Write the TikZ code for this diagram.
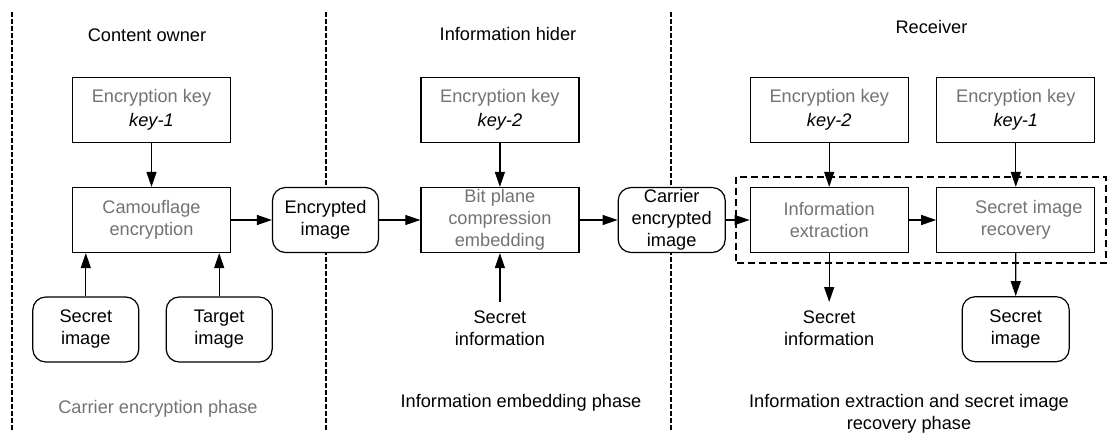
\documentclass[tikz,border=0pt]{standalone}
\usepackage{fontspec}
\setmainfont{Liberation Sans}
\usetikzlibrary{arrows.meta}
\definecolor{txtgray}{HTML}{737373}
\begin{document}
\begin{tikzpicture}[x=1pt,y=-1pt,
  every node/.style={font=\fontsize{18.2}{22}\selectfont},
  box/.style={draw, line width=1.2pt, minimum width=158pt, minimum height=65pt, inner sep=0pt, align=center, fill=white},
  rbox/.style={draw, line width=1.2pt, rounded corners=13pt, minimum width=106pt, minimum height=65pt, align=center, inner sep=0pt, fill=white},
  lbl/.style={align=center, inner xsep=0pt, inner ysep=9pt},
  ttl/.style={anchor=base, inner sep=0pt},
  arr/.style={line width=1.2pt, -{Triangle[length=15pt,width=10pt]}},
  sepline/.style={line width=1.2pt, dash pattern=on 4.5pt off 2.5pt},
  grp/.style={line width=1.8pt, dash pattern=on 7pt off 4pt},
]
\useasboundingbox (0,0) rectangle (1112,432);
% separators
\coordinate (s1t) at (12,12);   \coordinate (s1b) at (12,432);
\coordinate (s2t) at (326,12);  \coordinate (s2b) at (326,432);
\coordinate (s3t) at (671,12);  \coordinate (s3b) at (671,432);
\draw[sepline] (s1t) -- (s1b);
\draw[sepline] (s2t) -- (s2b);
\draw[sepline] (s3t) -- (s3b);
% titles
\node[ttl] (t1) at (147,41.7) {Content owner};
\node[ttl] (t2) at (508,40) {Information hider};
\node[ttl] (t3) at (931.5,33.3) {Receiver};
% content owner
\node[box] (k1) at (151.5,110) {\textcolor{txtgray}{Encryption key}\\[2pt]\textit{key-1}};
\node[box, text=txtgray] (cam) at (151.5,220) {Camouflage\\encryption};
\node[rbox] (si1) at (85.8,329.5) {Secret\\image};
\node[rbox] (ti) at (219.2,329.5) {Target\\image};
\node[rbox] (enc) at (325.5,220) {Encrypted\\image};
% information hider
\node[box] (k2) at (499.9,110) {\textcolor{txtgray}{Encryption key}\\[2pt]\textit{key-2}};
\node[box, text=txtgray] (bp) at (499.9,220) {Bit plane\\compression\\embedding};
\node[lbl, anchor=north] (sinfo1) at (499.9,302) {Secret\\information};
\node[rbox, minimum width=107pt] (car) at (671.7,220) {Carrier\\encrypted\\image};
% receiver
\draw[grp] (736,176.7) rectangle (1105.7,263.3);
\node[box] (k3) at (829.2,110) {\textcolor{txtgray}{Encryption key}\\[2pt]\textit{key-2}};
\node[box] (k4) at (1015.8,110) {\textcolor{txtgray}{Encryption key}\\[2pt]\textit{key-1}};
\node[box, text=txtgray] (ie) at (829.2,220) {Information\\extraction};
\node[box, text=txtgray] (rec) at (1015.8,220) {\hspace*{26pt}Secret image\\recovery};
\node[lbl, anchor=north] (sinfo2) at (829.2,302) {Secret\\information};
\node[rbox, minimum width=107pt] (si2) at (1015.7,329.2) {Secret\\image};
% phase labels
\node[ttl, text=txtgray] (p1) at (158,413.3) {Carrier encryption phase};
\node[ttl] (p2) at (521,407.3) {Information embedding phase};
\node[align=center, inner sep=0pt] (p3) at (909,414) {Information extraction and secret image\\recovery phase};
% arrows
\draw[arr] (k1) -- (cam);
\draw[arr] (si1.north) -- (si1.north |- cam.south);
\draw[arr] (ti.north) -- (ti.north |- cam.south);
\draw[arr] (cam) -- (enc);
\draw[arr] (enc) -- (bp);
\draw[arr] (k2) -- (bp);
\draw[arr] (sinfo1) -- (bp);
\draw[arr] (bp) -- (car);
\draw[arr] (car) -- (ie);
\draw[arr] (k3) -- (ie);
\draw[arr] (k4) -- (rec);
\draw[arr] (ie) -- (rec);
\draw[arr] (ie) -- (sinfo2);
\draw[arr] (rec) -- (si2);
\end{tikzpicture}
\end{document}
